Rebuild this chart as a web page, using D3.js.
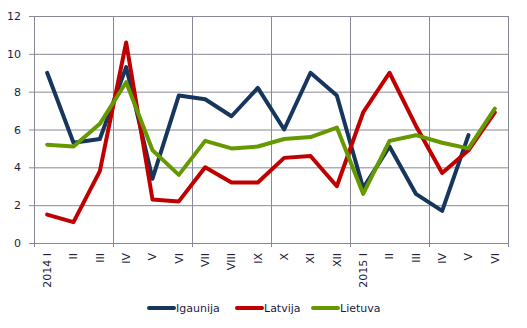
<!DOCTYPE html>
<html>
<head>
<meta charset="utf-8">
<script src="https://cdn.jsdelivr.net/npm/d3@7"></script>
<style>
  body { margin: 0; background: #fff; }
  text { font-family: "DejaVu Sans", Verdana, sans-serif; fill: #1c1c3c; }
</style>
</head>
<body>
<div id="chart"></div>
<script>
// months, 2014 I .. 2015 VI
const months = ["2014 I", "II", "III", "IV", "V", "VI", "VII", "VIII", "IX", "X", "XI", "XII",
                "2015 I", "II", "III", "IV", "V", "VI"];
const igaunija = [9.0, 5.3, 5.5, 9.3, 3.4, 7.8, 7.6, 6.7, 8.2, 6.0, 9.0, 7.8, 2.9, 5.1, 2.6, 1.7, 5.7, null];
const latvija  = [1.5, 1.1, 3.8, 10.6, 2.3, 2.2, 4.0, 3.2, 3.2, 4.5, 4.6, 3.0, 6.9, 9.0, 6.2, 3.7, 4.9, 6.9];
const lietuva  = [5.2, 5.1, 6.3, 8.5, 4.9, 3.6, 5.4, 5.0, 5.1, 5.5, 5.6, 6.1, 2.6, 5.4, 5.7, 5.3, 5.0, 7.1];
const yTicks = [0, 2, 4, 6, 8, 10, 12];

const series = [
  { name: "Igaunija", values: igaunija, color: "#17365d" },
  { name: "Latvija",  values: latvija,  color: "#c00000" },
  { name: "Lietuva",  values: lietuva,  color: "#669900" }
];

const width = 527, height = 328;
const plotLeft = 34, plotRight = 508, plotTop = 16, plotBottom = 243;
const gridColor = "#878a96";

const svg = d3.select("#chart").append("svg")
  .attr("width", width)
  .attr("height", height);

const keys = months.map((m, i) => i);
const x = d3.scaleBand().domain(keys).range([plotLeft, plotRight]).padding(0);
const y = d3.scaleLinear().domain([0, 12]).range([plotBottom, plotTop]);

// horizontal grid + y labels
const yAxis = svg.append("g")
  .attr("transform", "translate(" + plotRight + ",0)")
  .call(d3.axisLeft(y).tickValues(yTicks).tickSize(plotRight - plotLeft + 5).tickPadding(8));
yAxis.select(".domain").remove();
yAxis.selectAll("line").attr("stroke", gridColor);
yAxis.selectAll("text")
  .style("font-size", "11px")
  .style("font-family", "'DejaVu Sans', Verdana, sans-serif")
  .attr("fill", "#1c1c3c");

// vertical grid every 3 months
const vLines = d3.range(0, months.length + 1, 3);
svg.append("g")
  .selectAll("line")
  .data(vLines).enter()
  .append("line")
  .attr("x1", d => d < months.length ? x(d) : plotRight)
  .attr("x2", d => d < months.length ? x(d) : plotRight)
  .attr("y1", plotTop)
  .attr("y2", plotBottom + 4)
  .attr("stroke", gridColor)
  .attr("stroke-width", 1)
  .attr("shape-rendering", "crispEdges");

// x labels, rotated
svg.append("g")
  .selectAll("text")
  .data(months).enter()
  .append("text")
  .attr("transform", (d, i) => "translate(" + (x(i) + x.bandwidth() / 2) + ",253) rotate(-90)")
  .attr("text-anchor", "end")
  .attr("dy", "0.35em")
  .style("font-size", "11px")
  .text(d => d);

// lines
const line = d3.line()
  .defined(d => d.v != null)
  .x(d => x(d.i) + x.bandwidth() / 2)
  .y(d => y(d.v));

svg.append("g")
  .selectAll("path")
  .data(series).enter()
  .append("path")
  .attr("d", s => line(s.values.map((v, i) => ({ i: i, v: v }))))
  .attr("fill", "none")
  .attr("stroke", s => s.color)
  .attr("stroke-width", 4)
  .attr("stroke-linejoin", "round")
  .attr("stroke-linecap", "round");

// legend
const legendX = [149, 237, 313];
const legend = svg.append("g")
  .selectAll("g")
  .data(series).enter()
  .append("g")
  .attr("transform", (d, i) => "translate(" + legendX[i] + ",308)");

legend.append("line")
  .attr("x1", 0).attr("x2", 25)
  .attr("stroke", d => d.color)
  .attr("stroke-width", 4)
  .attr("stroke-linecap", "round");

legend.append("text")
  .attr("x", 27)
  .attr("dy", "0.35em")
  .style("font-size", "11px")
  .text(d => d.name);
</script>
</body>
</html>
